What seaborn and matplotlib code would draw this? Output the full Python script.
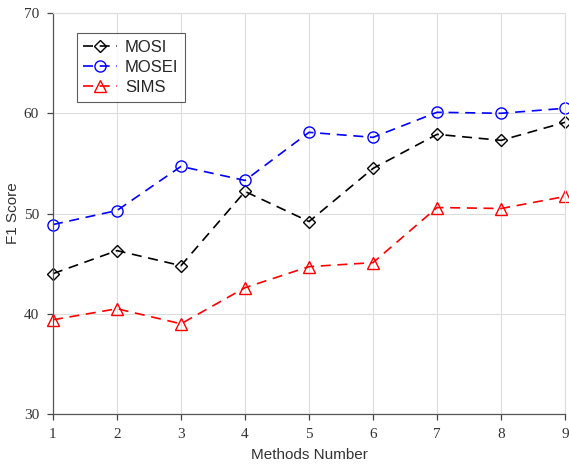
import matplotlib
matplotlib.use("Agg")
import matplotlib.pyplot as plt
import seaborn as sns
import pandas as pd

methods = [1, 2, 3, 4, 5, 6, 7, 8, 9]
mosi = [44.0, 46.3, 44.8, 52.2, 49.2, 54.5, 57.9, 57.3, 59.1]
mosei = [48.9, 50.3, 54.7, 53.3, 58.1, 57.6, 60.1, 60.0, 60.5]
sims = [39.4, 40.5, 39.0, 42.6, 44.7, 45.1, 50.6, 50.5, 51.7]
series_names = ["MOSI", "MOSEI", "SIMS"]

sns.set_style("white")
fig = plt.figure(figsize=(5.69, 4.66), dpi=100)
ax = fig.add_axes([0.0931, 0.1116, 0.9000, 0.8604])

styles = {
    "MOSI": dict(color="black", marker="D", ms=6.5),
    "MOSEI": dict(color="blue", marker="o", ms=8),
    "SIMS": dict(color="red", marker="^", ms=8),
}
for name, vals in zip(series_names, [mosi, mosei, sims]):
    df = pd.DataFrame({"x": methods, "y": vals})
    st = styles[name]
    sns.lineplot(data=df, x="x", y="y", ax=ax, color=st["color"], marker=st["marker"],
                 markersize=st["ms"], markerfacecolor="none", markeredgecolor=st["color"],
                 markeredgewidth=1.0, linestyle=(0, (6, 4)), linewidth=1.2, label=name,
                 clip_on=False)

ax.set_xlim(1, 9)
ax.set_ylim(30, 70)
ax.set_xticks(methods)
ax.set_yticks([30, 40, 50, 60, 70])
ax.grid(True, color="#dddddd", linewidth=0.8)
for side in ["left", "bottom"]:
    ax.spines[side].set_color("#555555")
    ax.spines[side].set_linewidth(0.9)
for side in ["top", "right"]:
    ax.spines[side].set_color("#dddddd")
    ax.spines[side].set_linewidth(0.8)
ax.tick_params(axis="both", which="major", bottom=True, left=True, top=False, right=False,
               direction="out", length=4, width=0.9, color="#444444",
               labelsize=11, labelcolor="#333333", pad=6)
for lab in ax.get_xticklabels() + ax.get_yticklabels():
    lab.set_fontfamily("Liberation Serif")
ax.set_xlabel("Methods Number", fontfamily="Liberation Sans", fontsize=11, color="#333333", labelpad=5)
ax.set_ylabel("F1 Score", fontfamily="Liberation Sans", fontsize=11, color="#333333", labelpad=3)

leg = ax.legend(loc="upper left", bbox_to_anchor=(0.03, 0.97), frameon=True, fancybox=False,
                edgecolor="#333333", handlelength=2.0, handletextpad=0.5, borderpad=0.4,
                labelspacing=0.3, prop={"family": "Liberation Sans", "size": 12})
leg.get_frame().set_linewidth(0.8)

fig.savefig("out.png", dpi=100)
